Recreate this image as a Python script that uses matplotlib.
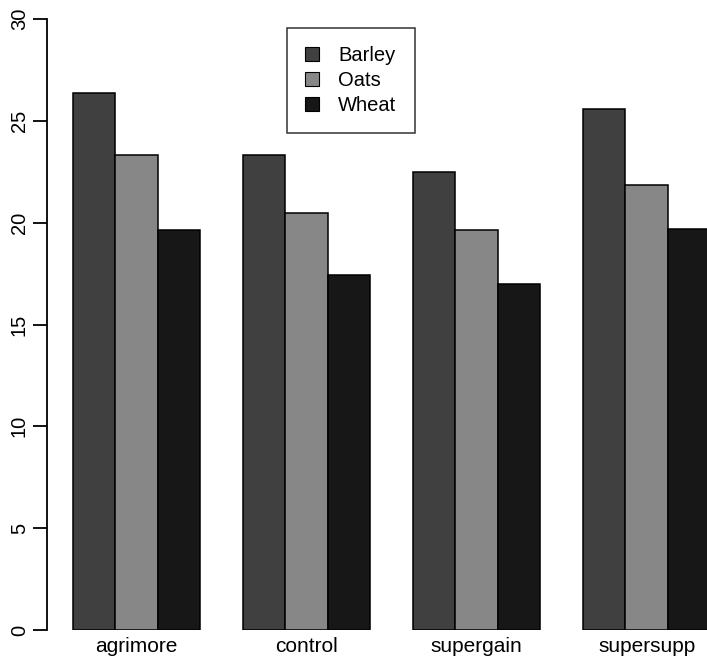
import numpy as np
import matplotlib.pyplot as plt
from matplotlib.patches import Patch

# data: mean weight gain by supplement and diet
supplements = ["agrimore", "control", "supergain", "supersupp"]
diets = ["Barley", "Oats", "Wheat"]
barley = [26.35, 23.30, 22.47, 25.58]
oats = [23.30, 20.49, 19.66, 21.86]
wheat = [19.64, 17.41, 17.01, 19.67]

colors = ["#404040", "#878787", "#171717"]

plt.rcParams['font.family'] = ['Liberation Sans', 'DejaVu Sans']

W, H = 707, 662
fig = plt.figure(figsize=(W / 100, H / 100), dpi=100)
# plot region in pixels: x 47..736 (cropped at right), y 19..630
x0, x1 = 47, 736
y0, y1 = 630, 19
ax = fig.add_axes([x0 / W, 1 - y0 / H, (x1 - x0) / W, (y0 - y1) / H])

series = [barley, oats, wheat]
for j, (vals, col) in enumerate(zip(series, colors)):
    lefts = [1 + 4 * i + j for i in range(len(supplements))]
    ax.bar(lefts, vals, width=1, align='edge', color=col,
           edgecolor='black', linewidth=1.1, label=diets[j])

ax.set_xlim(0.4, 16.6)
ax.set_ylim(0, 30)

for s in ['top', 'right', 'bottom']:
    ax.spines[s].set_visible(False)
ax.spines['left'].set_linewidth(1.3)
ax.spines['left'].set_bounds(0, 30)

ax.set_yticks(np.arange(0, 31, 5))
ax.set_yticklabels([str(v) for v in range(0, 31, 5)], rotation=90,
                   va='center', fontsize=14.5)
ax.tick_params(axis='y', length=10, width=1.3, pad=3)

ax.set_xticks([2.5 + 4 * i for i in range(len(supplements))])
ax.set_xticklabels(supplements, fontsize=15)
ax.tick_params(axis='x', length=0, pad=5)

handles = [Patch(facecolor=c, edgecolor='black', linewidth=0.8) for c in colors]
leg = ax.legend(handles, diets, loc='upper left',
                bbox_to_anchor=(287 / W, 1 - 28 / H),
                bbox_transform=fig.transFigure,
                fontsize=14.5, frameon=True, fancybox=False,
                handlelength=0.7, handleheight=0.7, handletextpad=0.95,
                labelspacing=0.3, borderpad=0.9, borderaxespad=0)
leg.get_frame().set_edgecolor('black')
leg.get_frame().set_linewidth(1.1)

fig.savefig("out.png", dpi=100)
